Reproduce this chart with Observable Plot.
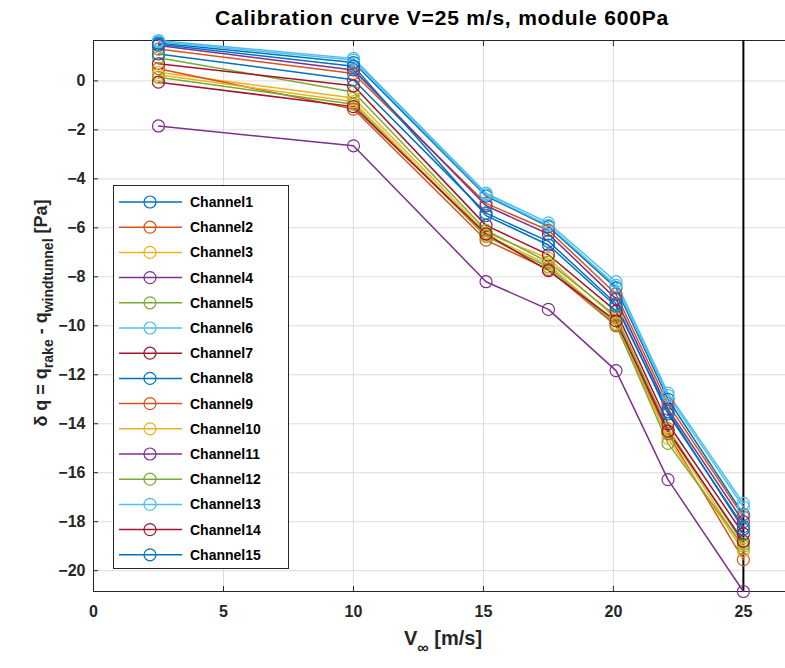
<!DOCTYPE html>
<html>
<head>
<meta charset="utf-8">
<script src="https://cdn.jsdelivr.net/npm/d3@7"></script>
<script src="https://cdn.jsdelivr.net/npm/@observablehq/plot@0.6"></script>
<style>
  html, body { margin: 0; padding: 0; background: #fff; }
  #chart svg { display: block; }
</style>
</head>
<body>
<div id="chart"></div>
<script>
// ---- data ----
const speeds = [2.5, 10, 15.1, 17.5, 20.1, 22.1, 25];
const channelNames = ["Channel1","Channel2","Channel3","Channel4","Channel5","Channel6","Channel7","Channel8","Channel9","Channel10","Channel11","Channel12","Channel13","Channel14","Channel15"];
const ch1  = [1.55, 0.75, -4.70, -5.95, -8.45, -13.0, -17.7];
const ch2  = [1.30, 0.30, -5.00, -6.10, -8.70, -13.2, -17.8];
const ch3  = [0.35, -0.70, -6.20, -7.25, -9.70, -14.3, -19.1];
const ch4  = [1.45, 0.45, -5.10, -6.25, -8.90, -13.4, -18.0];
const ch5  = [0.95, -0.45, -6.10, -7.40, -9.60, -14.2, -18.9];
const ch6  = [1.65, 0.92, -4.58, -5.80, -8.20, -12.75, -17.25];
const ch7  = [0.70, -0.20, -5.90, -7.10, -9.40, -14.0, -18.5];
const ch8  = [1.10, 0.05, -5.40, -6.55, -9.10, -13.6, -18.2];
const ch9  = [0.50, -1.15, -6.50, -7.70, -10.0, -14.4, -19.55];
const ch10 = [0.25, -0.85, -6.30, -7.50, -9.90, -14.6, -19.2];
const ch11 = [-1.84, -2.65, -8.20, -9.33, -11.83, -16.28, -20.85];
const ch12 = [0.15, -0.95, -6.35, -7.60, -9.95, -14.8, -19.0];
const ch13 = [1.60, 0.85, -4.65, -5.90, -8.35, -12.85, -17.40];
const ch14 = [-0.05, -1.05, -6.25, -7.75, -9.80, -14.3, -18.8];
const ch15 = [1.50, 0.60, -5.50, -6.70, -9.20, -13.5, -18.3];
const channelValues = [ch1, ch2, ch3, ch4, ch5, ch6, ch7, ch8, ch9, ch10, ch11, ch12, ch13, ch14, ch15];
const palette = ["#0072BD","#D95319","#EDB120","#7E2F8E","#77AC30","#4DBEEE","#A2142F"];
const xTicks = [0, 5, 10, 15, 20, 25];
const yTicks = [-20, -18, -16, -14, -12, -10, -8, -6, -4, -2, 0];
const xDomain = [0, 26.62];
const yDomain = [-20.85, 1.65];
const refSpeed = [25];

// ---- table ----
const rows = [];
channelNames.forEach((name, i) => {
  speeds.forEach((s, j) => rows.push({channel: name, v: s, dq: channelValues[i][j]}));
});
const colorOf = name => palette[channelNames.indexOf(name) % palette.length];

const FONT = "'Liberation Sans', Arial, Helvetica, sans-serif";

const plot = Plot.plot({
  width: 785,
  height: 668,
  marginLeft: 93,
  marginRight: 0,
  marginTop: 40,
  marginBottom: 77,
  style: {fontFamily: FONT, fontSize: "16px", fontWeight: "bold", color: "#262626", background: "#fff"},
  x: {domain: xDomain, label: null},
  y: {domain: yDomain, label: null},
  marks: [
    Plot.gridX(xTicks, {stroke: "#dcdcdc", strokeOpacity: 1}),
    Plot.gridY(yTicks, {stroke: "#dcdcdc", strokeOpacity: 1}),
    Plot.axisX(xTicks, {anchor: "bottom", tickSize: 0, tickPadding: 14, fontSize: 16, fontWeight: "bold", fill: "#262626"}),
    Plot.axisX(xTicks, {anchor: "bottom", tickSize: -5, text: null, stroke: "#262626"}),
    Plot.axisX(xTicks, {anchor: "top", tickSize: -5, text: null, stroke: "#262626"}),
    Plot.axisY(yTicks, {anchor: "left", tickSize: 0, tickPadding: 8, fontSize: 16, fontWeight: "bold", fill: "#262626"}),
    Plot.axisY(yTicks, {anchor: "left", tickSize: -5, text: null, stroke: "#262626"}),
    Plot.ruleY([yDomain[0]], {stroke: "#262626", strokeWidth: 1}),
    Plot.ruleY([yDomain[1]], {stroke: "#262626", strokeWidth: 1}),
    Plot.ruleX([xDomain[0]], {stroke: "#262626", strokeWidth: 1}),
    Plot.ruleX(refSpeed, {stroke: "#000", strokeWidth: 2}),
    Plot.line(rows, {x: "v", y: "dq", z: "channel", stroke: d => colorOf(d.channel), strokeWidth: 1.5}),
    Plot.dot(rows, {x: "v", y: "dq", stroke: d => colorOf(d.channel), r: 6, strokeWidth: 1.2, fill: "none"})
  ]
});

document.getElementById("chart").appendChild(plot);

// ---- titles, labels, legend (added into the same SVG) ----
const svg = d3.select(plot);

svg.append("text")
  .attr("x", 442).attr("y", 25)
  .attr("text-anchor", "middle")
  .attr("font-family", FONT).attr("font-weight", "bold").attr("font-size", 21)
  .attr("letter-spacing", 0.8)
  .attr("fill", "#000")
  .text("Calibration curve V=25 m/s, module 600Pa");

const xl = svg.append("text")
  .attr("x", 443).attr("y", 645)
  .attr("text-anchor", "middle")
  .attr("font-family", FONT).attr("font-weight", "bold").attr("font-size", 20)
  .attr("fill", "#262626");
xl.append("tspan").text("V");
xl.append("tspan").attr("dy", 8).attr("font-size", 16).text("\u221E");
xl.append("tspan").attr("dy", -8).text(" [m/s]");

const yl = svg.append("text")
  .attr("transform", "translate(47,313) rotate(-90)")
  .attr("text-anchor", "middle")
  .attr("font-family", FONT).attr("font-weight", "bold").attr("font-size", 18)
  .attr("fill", "#262626");
yl.append("tspan").text("\u03B4 q = q");
yl.append("tspan").attr("dy", 6).attr("font-size", 14).text("rake");
yl.append("tspan").attr("dy", -6).text(" - q");
yl.append("tspan").attr("dy", 6).attr("font-size", 14).text("windtunnel");
yl.append("tspan").attr("dy", -6).text(" [Pa]");

const lg = svg.append("g");
lg.append("rect")
  .attr("x", 113.5).attr("y", 185.5).attr("width", 175).attr("height", 383)
  .attr("fill", "#fff").attr("stroke", "#262626").attr("stroke-width", 1);
channelNames.forEach((name, i) => {
  const cy = 202 + i * 25.2;
  const c = colorOf(name);
  lg.append("line").attr("x1", 119).attr("x2", 182).attr("y1", cy).attr("y2", cy)
    .attr("stroke", c).attr("stroke-width", 1.5);
  lg.append("circle").attr("cx", 150).attr("cy", cy).attr("r", 6)
    .attr("fill", "none").attr("stroke", c).attr("stroke-width", 1.2);
  lg.append("text").attr("x", 190).attr("y", cy).attr("dy", "0.35em")
    .attr("text-anchor", "start")
    .attr("font-family", FONT).attr("font-weight", "bold").attr("font-size", 14)
    .attr("fill", "#000").text(name);
});
</script>
</body>
</html>
